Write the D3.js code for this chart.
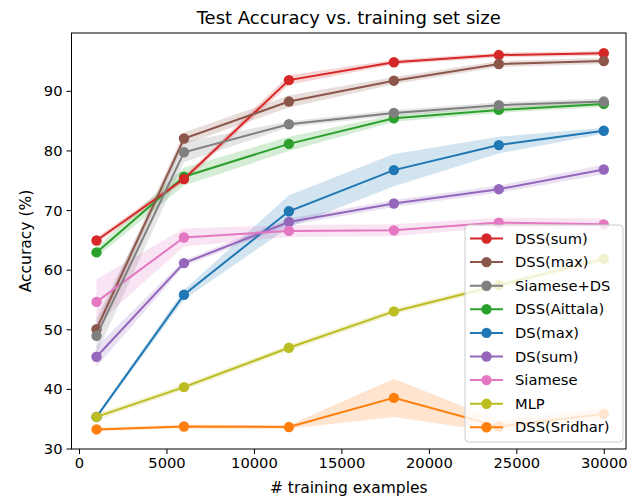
<!DOCTYPE html>
<html>
<head>
<meta charset="utf-8">
<script src="https://cdn.jsdelivr.net/npm/d3@7"></script>
<style>
  body { margin: 0; background: #fff; }
  text { font-family: "DejaVu Sans", sans-serif; fill: #000; }
</style>
</head>
<body>
<div id="chart"></div>
<script>
// training set sizes on the x axis
var sizes = [1000, 6000, 12000, 18000, 24000, 30000];

var dsMax      = [35.3, 55.8, 69.8, 76.7, 80.9, 83.3];
var dsMaxStd   = [0.3, 0.8, 2.7, 2.7, 1.4, 0.5];
var sridhar    = [33.2, 33.7, 33.6, 38.5, 33.7, 35.8];
var sridharStd = [0.3, 0.3, 0.3, 3.2, 1.0, 1.0];
var aittala    = [62.9, 75.6, 81.1, 85.4, 86.8, 87.8];
var aittalaStd = [0.8, 1.5, 1.2, 0.6, 0.5, 0.5];
var dssSum     = [64.9, 75.2, 91.8, 94.8, 96.0, 96.3];
var dssSumStd  = [0.5, 0.5, 0.8, 0.4, 0.4, 0.4];
var dsSum      = [45.4, 61.1, 68.0, 71.1, 73.5, 76.8];
var dsSumStd   = [1.7, 0.5, 0.6, 0.6, 0.6, 0.8];
var dssMax     = [50.0, 82.0, 88.2, 91.7, 94.5, 95.0];
var dssMaxStd  = [1.0, 1.0, 1.0, 0.6, 0.5, 0.5];
var siamese    = [54.6, 65.4, 66.5, 66.6, 67.9, 67.6];
var siameseStd = [3.8, 1.5, 1.0, 1.0, 0.8, 1.0];
var siamDs     = [48.9, 79.7, 84.4, 86.3, 87.6, 88.2];
var siamDsStd  = [3.0, 1.7, 0.5, 0.5, 0.5, 0.5];
var mlp        = [35.3, 40.3, 46.9, 53.0, 57.4, 61.8];
var mlpStd     = [0.5, 0.5, 0.5, 0.5, 0.5, 0.5];

var xTicks = [0, 5000, 10000, 15000, 20000, 25000, 30000];
var yTicks = [30, 40, 50, 60, 70, 80, 90];

// plotting order (matplotlib colour cycle)
var series = [
    {name: 'DS(max)',      mean: dsMax,   std: dsMaxStd,   color: '#1f77b4'},
    {name: 'DSS(Sridhar)', mean: sridhar, std: sridharStd, color: '#ff7f0e'},
    {name: 'DSS(Aittala)', mean: aittala, std: aittalaStd, color: '#2ca02c'},
    {name: 'DSS(sum)',     mean: dssSum,  std: dssSumStd,  color: '#d62728'},
    {name: 'DS(sum)',      mean: dsSum,   std: dsSumStd,   color: '#9467bd'},
    {name: 'DSS(max)',     mean: dssMax,  std: dssMaxStd,  color: '#8c564b'},
    {name: 'Siamese',      mean: siamese, std: siameseStd, color: '#e377c2'},
    {name: 'Siamese+DS',   mean: siamDs,  std: siamDsStd,  color: '#7f7f7f'},
    {name: 'MLP',          mean: mlp,     std: mlpStd,     color: '#bcbd22'}
];
var legendOrder = ['DSS(sum)', 'DSS(max)', 'Siamese+DS', 'DSS(Aittala)', 'DS(max)',
                   'DS(sum)', 'Siamese', 'MLP', 'DSS(Sridhar)'];

var width = 635, height = 496;
var plot = {left: 71.5, right: 626, top: 33, bottom: 449};

var svg = d3.select('#chart').append('svg')
    .attr('width', width)
    .attr('height', height);

var x = d3.scaleLinear().domain([-430, 31270]).range([plot.left, plot.right]);
var y = d3.scaleLinear().domain([29.92, 99.7]).range([plot.bottom, plot.top]);

var g = svg.append('g');

// shaded std bands
var area = d3.area()
    .x(function(d) { return x(d.x); })
    .y0(function(d) { return y(d.m - d.s); })
    .y1(function(d) { return y(d.m + d.s); });

series.forEach(function(s) {
    var pts = sizes.map(function(v, i) { return {x: v, m: s.mean[i], s: s.std[i]}; });
    g.append('path')
        .datum(pts)
        .attr('d', area)
        .style('fill', s.color)
        .style('fill-opacity', 0.2)
        .style('stroke', 'none');
});

// lines + markers
var line = d3.line()
    .x(function(d) { return x(d.x); })
    .y(function(d) { return y(d.m); });

series.forEach(function(s) {
    var pts = sizes.map(function(v, i) { return {x: v, m: s.mean[i]}; });
    g.append('path')
        .datum(pts)
        .attr('d', line)
        .style('fill', 'none')
        .style('stroke', s.color)
        .style('stroke-width', 2);
    g.selectAll(null)
        .data(pts)
        .enter().append('circle')
        .attr('cx', function(d) { return x(d.x); })
        .attr('cy', function(d) { return y(d.m); })
        .attr('r', 5.2)
        .style('fill', s.color);
});

// axes
var xAxis = svg.append('g')
    .attr('transform', `translate(0, ${plot.bottom})`)
    .call(d3.axisBottom(x).tickValues(xTicks).tickSize(5).tickPadding(4).tickFormat(d3.format('d')));
var yAxis = svg.append('g')
    .attr('transform', `translate(${plot.left}, 0)`)
    .call(d3.axisLeft(y).tickValues(yTicks).tickSize(5).tickPadding(4));

[xAxis, yAxis].forEach(function(a) {
    a.select('.domain').remove();
    a.selectAll('text')
        .attr('font-family', 'DejaVu Sans')
        .attr('font-size', '14.7px')
        .attr('fill', '#000');
    a.selectAll('line').style('stroke', '#000').style('stroke-width', 1);
});
xAxis.selectAll('text').attr('dy', '0.71em');
yAxis.selectAll('text').attr('dy', '0.34em');

// frame
svg.append('rect')
    .attr('x', plot.left)
    .attr('y', plot.top)
    .attr('width', plot.right - plot.left)
    .attr('height', plot.bottom - plot.top)
    .style('fill', 'none')
    .style('stroke', '#000')
    .style('stroke-width', 1);

// title and labels
svg.append('text')
    .attr('x', (plot.left + plot.right) / 2)
    .attr('y', 23.5)
    .attr('font-size', '18px')
    .style('text-anchor', 'middle')
    .text('Test Accuracy vs. training set size');

svg.append('text')
    .attr('x', (plot.left + plot.right) / 2)
    .attr('y', 493)
    .attr('font-size', '15.5px')
    .style('text-anchor', 'middle')
    .text('# training examples');

svg.append('text')
    .attr('transform', `translate(31, ${(plot.top + plot.bottom) / 2}) rotate(-90)`)
    .attr('font-size', '15.5px')
    .style('text-anchor', 'middle')
    .text('Accuracy (%)');

// legend
var lg = svg.append('g').attr('transform', 'translate(465, 225)');
lg.append('rect')
    .attr('width', 158)
    .attr('height', 217)
    .attr('rx', 4)
    .style('fill', '#fff')
    .style('fill-opacity', 0.8)
    .style('stroke', '#ccc')
    .style('stroke-width', 1);

legendOrder.forEach(function(name, i) {
    var s = series.find(function(d) { return d.name === name; });
    var row = lg.append('g').attr('transform', `translate(0, ${13.5 + i * 23.6})`);
    row.append('line')
        .attr('x1', 5).attr('x2', 38)
        .style('stroke', s.color)
        .style('stroke-width', 2);
    row.append('circle')
        .attr('cx', 21.5)
        .attr('r', 5.2)
        .style('fill', s.color);
    row.append('text')
        .attr('x', 50)
        .attr('dy', '0.35em')
        .attr('font-size', '14.7px')
        .text(name);
});
</script>
</body>
</html>
